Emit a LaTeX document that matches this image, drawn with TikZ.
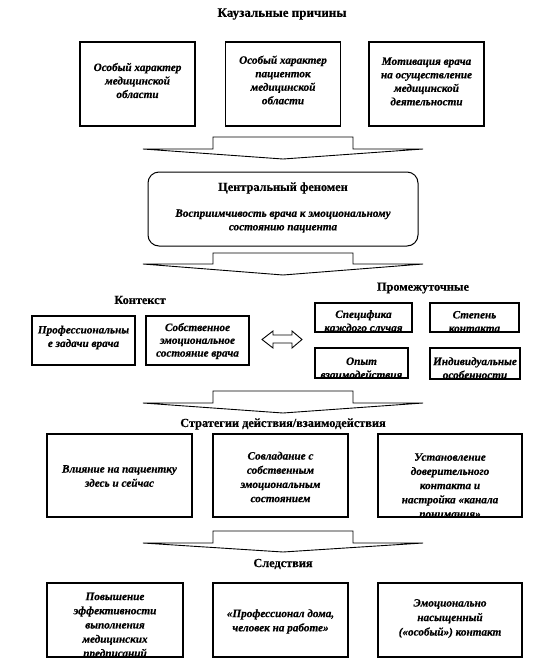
\documentclass[tikz,border=0pt]{standalone}
\usepackage{fontspec}
\setmainfont{Liberation Serif}[BoldItalicFeatures={FakeBold=0.5},BoldFeatures={FakeBold=0.4}]
\begin{document}
\begin{tikzpicture}[x=1pt,y=-1pt,
  frame/.style={draw=black, line width=1.2pt, inner sep=0pt, outer sep=0pt},
  rframe/.style={frame, line width=1pt, rounded corners=11pt},
  bi/.style={font=\fontsize{11.2}{13.5}\selectfont\bfseries\itshape, align=center, inner sep=0pt},
  bil/.style={bi, font=\fontsize{11.2}{14.2}\selectfont\bfseries\itshape},
  head/.style={font=\fontsize{13}{15}\selectfont\bfseries, inner sep=0pt},
  subhead/.style={font=\fontsize{12.3}{14}\selectfont\bfseries, inner sep=0pt},
  barrow/.style={draw=black, line width=0.9pt, line join=miter},
]
\useasboundingbox (0,0) rectangle (548,665);

% ---- Causal conditions
\node[head] (hcaus) at (282,14) {Каузальные причины};
\node[frame, minimum width=115pt, minimum height=84pt] (c1) at (137.5,84) {};
\node[frame, minimum width=115pt, minimum height=84pt] (c2) at (283,84) {};
\node[frame, minimum width=115pt, minimum height=84pt] (c3) at (426.5,84) {};
\node[bi] (tc1) at (137.5,80.5) {Особый характер\\медицинской\\области};
\node[bi] (tc2) at (283,80) {Особый характер\\пациенток\\медицинской\\области};
\node[bi] (tc3) at (426.5,81.5) {Мотивация врача\\на осуществление\\медицинской\\деятельности};

% block arrow 1
\begin{scope}[shift={(283,137)}]
\draw[barrow] (-70,0) -- (70,0) -- (70,12) -- (140,12) -- (0,22) -- (-140,12) -- (-70,12) -- cycle;
\end{scope}

% ---- Central phenomenon
\node[rframe, minimum width=270pt, minimum height=74pt] (cen) at (283,209) {};
\node[subhead] (hcen) at (283,188) {Центральный феномен};
\node[bi] (tcen) at (283,221) {Восприимчивость врача к эмоциональному\\состоянию пациента};

% block arrow 2
\begin{scope}[shift={(283,253)}]
\draw[barrow] (-70,0) -- (70,0) -- (70,11) -- (140,11) -- (0,22) -- (-140,11) -- (-70,11) -- cycle;
\end{scope}

% ---- Context
\node[subhead] (hctx) at (140,300) {Контекст};
\node[frame, minimum width=103pt, minimum height=49pt] (k1) at (83.5,340.5) {};
\node[frame, minimum width=103pt, minimum height=49pt] (k2) at (197.5,340.5) {};
\node[bi] (tk1) at (83.5,337.5) {Профессиональны\\е задачи врача};
\node[bi, font=\fontsize{11.2}{12.8}\selectfont\bfseries\itshape] (tk2) at (197.5,341) {Собственное\\эмоциональное\\состояние врача};

% double arrow
\draw[barrow] (262,339.5) -- (273,331) -- (273,335) -- (292,335) -- (292,331) -- (302,339.5)
  -- (292,348) -- (292,343) -- (273,343) -- (273,348) -- cycle;

% ---- Intermediate
\node[subhead] (hint) at (423,288) {Промежуточные};
\node[frame, minimum width=97pt, minimum height=29pt] (p1) at (363.5,317.5) {};
\node[frame, minimum width=89pt, minimum height=29pt] (p2) at (474.5,317.5) {};
\node[frame, minimum width=93pt, minimum height=30pt] (p3) at (361.5,363) {};
\node[frame, minimum width=90pt, minimum height=31pt] (p4) at (475,363.5) {};
\begin{scope}
\clip (315,303) rectangle (412,330);
\node[bi] (tp1) at (363.5,322) {Специфика\\каждого случая};
\end{scope}
\begin{scope}
\clip (430,303) rectangle (519,330);
\node[bi] (tp2) at (474.5,321.5) {Степень\\контакта};
\end{scope}
\begin{scope}
\clip (315,348) rectangle (408,376);
\node[bi] (tp3) at (361.5,368) {Опыт\\взаимодействия};
\end{scope}
\begin{scope}
\clip (430,348) rectangle (520,377);
\node[bi] (tp4) at (475,368) {Индивидуальные\\особенности};
\end{scope}

% block arrow 3
\begin{scope}[shift={(283,391)}]
\draw[barrow] (-70,0) -- (70,0) -- (70,12) -- (140,12) -- (0,22) -- (-140,12) -- (-70,12) -- cycle;
\end{scope}

% ---- Strategies
\node[subhead] (hstr) at (283,424) {Стратегии действия/взаимодействия};
\node[frame, minimum width=145pt, minimum height=83pt] (s1) at (119.5,475.5) {};
\node[frame, minimum width=135pt, minimum height=83pt] (s2) at (280.5,475.5) {};
\node[frame, minimum width=144pt, minimum height=83pt] (s3) at (450,475.5) {};
\node[bil] (ts1) at (119.5,476) {Влияние на пациентку\\здесь и сейчас};
\node[bil] (ts2) at (280.5,477) {Совладание с\\собственным\\эмоциональным\\состоянием};
\begin{scope}
\clip (378,434) rectangle (522,515);
\node[bil] (ts3) at (450,485.5) {Установление\\доверительного\\контакта и\\настройка «канала\\понимания»};
\end{scope}

% block arrow 4
\begin{scope}[shift={(283,531)}]
\draw[barrow] (-70,0) -- (70,0) -- (70,12) -- (140,12) -- (0,21) -- (-140,12) -- (-70,12) -- cycle;
\end{scope}

% ---- Consequences
\node[subhead] (hcon) at (283,564) {Следствия};
\node[frame, minimum width=136pt, minimum height=74pt] (r1) at (115,620) {};
\node[frame, minimum width=135pt, minimum height=74pt] (r2) at (280.5,620) {};
\node[frame, minimum width=144pt, minimum height=74pt] (r3) at (450,620) {};
\begin{scope}
\clip (47,583) rectangle (183,655);
\node[bil] (tr1) at (115,626) {Повышение\\эффективности\\выполнения\\медицинских\\предписаний};
\end{scope}
\node[bil] (tr2) at (280.5,621.5) {«Профессионал дома,\\человек на работе»};
\node[bi, font=\fontsize{11.2}{14.5}\selectfont\bfseries\itshape] (tr3) at (450,618.5) {Эмоционально\\насыщенный\\(«особый») контакт};
\end{tikzpicture}
\end{document}
